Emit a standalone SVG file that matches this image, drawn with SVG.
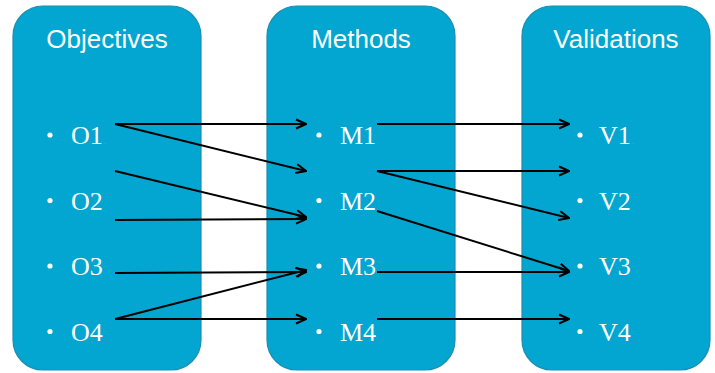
<svg xmlns="http://www.w3.org/2000/svg" width="715" height="373" viewBox="0 0 715 373">
  <style>
    .panel { fill: #02a6d0; stroke: #1b8fb0; stroke-width: 1.2; }
    .title { font-family: "Liberation Sans", Arial, sans-serif; font-size: 26px; fill: #ffffff; text-anchor: middle; }
    .item { font-family: "Liberation Serif", "Times New Roman", serif; font-size: 26px; fill: #ffffff; }
    .dot { fill: #ffffff; }
    .link { stroke: #000000; stroke-width: 2; fill: none; marker-end: url(#arrow); }
  </style>
  <defs>
    <marker id="arrow" viewBox="0 0 12 12" refX="11" refY="6" markerWidth="12" markerHeight="12" markerUnits="userSpaceOnUse" orient="auto">
      <path d="M1,1.5 L11,6 L1,10.5" fill="none" stroke="#000000" stroke-width="2"/>
    </marker>
  </defs>

  <g id="objectives">
    <rect class="panel" x="13" y="6" width="188" height="364" rx="30" ry="30"/>
    <text class="title" x="107" y="48">Objectives</text>
    <circle class="dot" cx="50" cy="135" r="2.6"/>
    <text class="item" x="71" y="144">O1</text>
    <circle class="dot" cx="50" cy="200.5" r="2.6"/>
    <text class="item" x="71" y="209.5">O2</text>
    <circle class="dot" cx="50" cy="266" r="2.6"/>
    <text class="item" x="71" y="275">O3</text>
    <circle class="dot" cx="50" cy="331.5" r="2.6"/>
    <text class="item" x="71" y="340.5">O4</text>
  </g>

  <g id="methods">
    <rect class="panel" x="267" y="6" width="188" height="364" rx="30" ry="30"/>
    <text class="title" x="361" y="48">Methods</text>
    <circle class="dot" cx="319" cy="135" r="2.6"/>
    <text class="item" x="340" y="144">M1</text>
    <circle class="dot" cx="319" cy="200.5" r="2.6"/>
    <text class="item" x="340" y="209.5">M2</text>
    <circle class="dot" cx="319" cy="266" r="2.6"/>
    <text class="item" x="340" y="275">M3</text>
    <circle class="dot" cx="319" cy="331.5" r="2.6"/>
    <text class="item" x="340" y="340.5">M4</text>
  </g>

  <g id="validations">
    <rect class="panel" x="522" y="6" width="188" height="364" rx="30" ry="30"/>
    <text class="title" x="616" y="48">Validations</text>
    <circle class="dot" cx="580" cy="135" r="2.6"/>
    <text class="item" x="599" y="144">V1</text>
    <circle class="dot" cx="580" cy="200.5" r="2.6"/>
    <text class="item" x="599" y="209.5">V2</text>
    <circle class="dot" cx="580" cy="266" r="2.6"/>
    <text class="item" x="599" y="275">V3</text>
    <circle class="dot" cx="580" cy="331.5" r="2.6"/>
    <text class="item" x="599" y="340.5">V4</text>
  </g>

  <g id="connectors">
    <!-- objectives to methods -->
    <line class="link" x1="115" y1="124" x2="306" y2="124"/>
    <line class="link" x1="115" y1="124" x2="306" y2="171"/>
    <line class="link" x1="115" y1="171" x2="306" y2="217"/>
    <line class="link" x1="115" y1="220" x2="306" y2="219"/>
    <line class="link" x1="115" y1="273" x2="306" y2="272"/>
    <line class="link" x1="115" y1="319" x2="306" y2="270"/>
    <line class="link" x1="115" y1="319" x2="306" y2="319"/>
    <!-- methods to validations -->
    <line class="link" x1="377" y1="124" x2="569" y2="124"/>
    <line class="link" x1="377" y1="171" x2="569" y2="171"/>
    <line class="link" x1="377" y1="171" x2="569" y2="218"/>
    <line class="link" x1="377" y1="211" x2="569" y2="271"/>
    <line class="link" x1="377" y1="272" x2="569" y2="272"/>
    <line class="link" x1="377" y1="319" x2="569" y2="319"/>
  </g>
</svg>
